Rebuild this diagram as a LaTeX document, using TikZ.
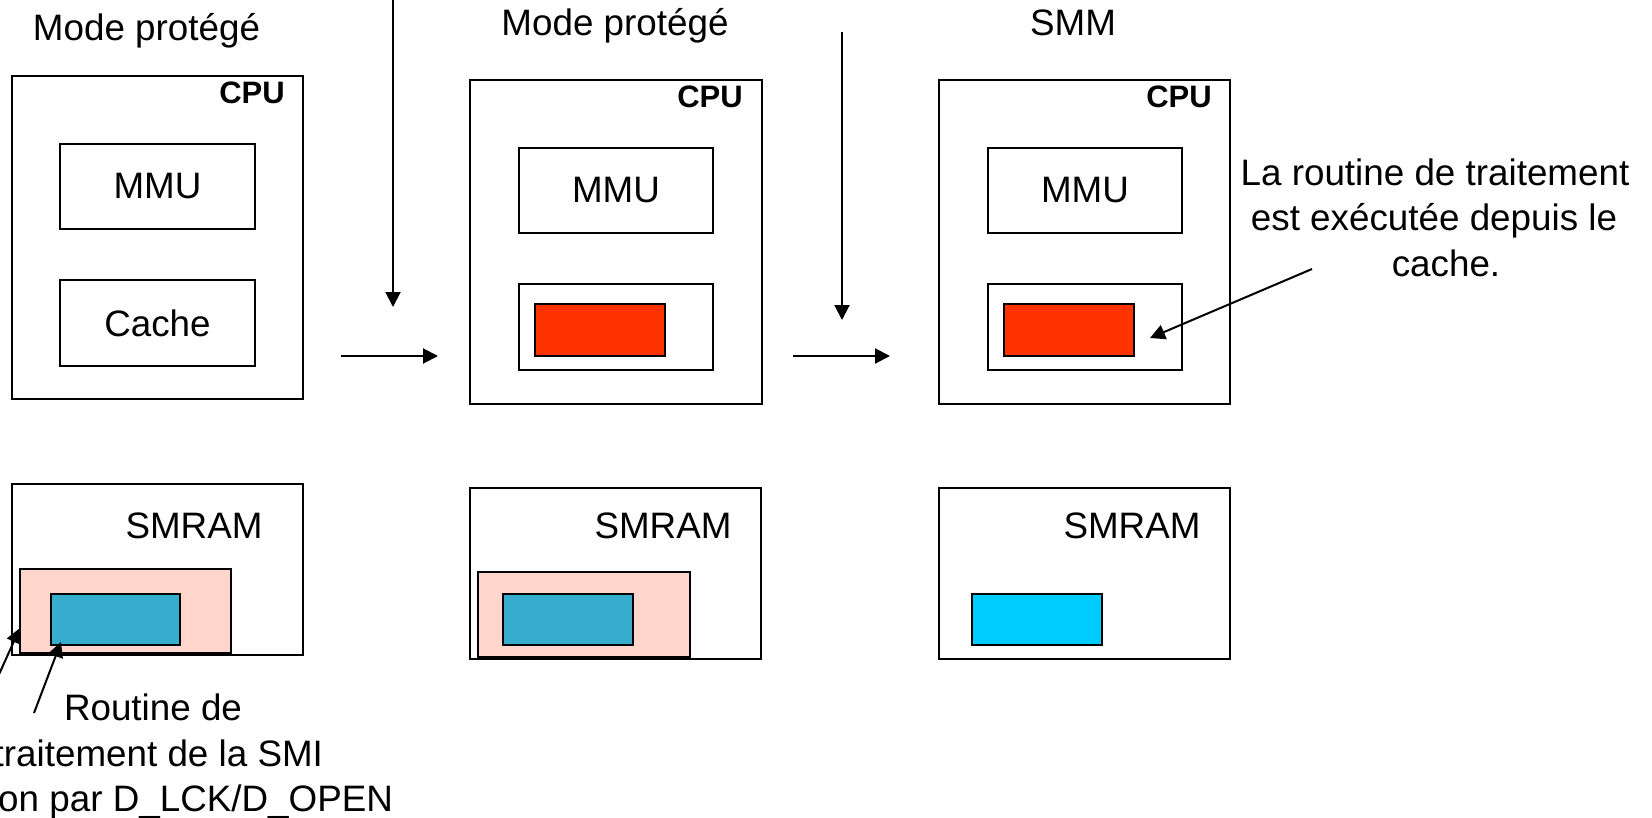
\documentclass[tikz,border=0pt]{standalone}
\usepackage{fontspec}
\setmainfont{Liberation Sans}
\usetikzlibrary{arrows.meta}
\definecolor{hred}{RGB}{255,51,0}
\definecolor{hpink}{RGB}{255,213,204}
\definecolor{hteal}{RGB}{54,173,204}
\definecolor{hcyan}{RGB}{0,204,255}
\begin{document}
\begin{tikzpicture}[x=1pt,y=-1pt,
  box/.style={draw=black, line width=2.3pt, inner sep=0pt, outer sep=0pt, anchor=north west, font=\fontsize{36.8}{45}\selectfont},
  fillbox/.style={box, line width=2pt, fill=#1},
  txt/.style={font=\fontsize{36.8}{45}\selectfont, inner sep=0pt, outer sep=0pt},
  cpulbl/.style={font=\fontsize{31}{36}\selectfont\bfseries, inner sep=0pt, anchor=base east},
  arr/.style={draw=black, line width=2pt, -{Triangle[length=15pt,width=15pt]}}]
\useasboundingbox (0,0) rectangle (1652,817);

% ---- titles
\node[txt, anchor=base] (mode1) at (146.5,40) {Mode protégé};
\node[txt, anchor=base] (mode2) at (615,35) {Mode protégé};
\node[txt, anchor=base] (smm) at (1073,35) {SMM};

% ---- CPU 1
\node[box, minimum width=291pt, minimum height=323pt] (cpu1) at (12,76) {};
\node[cpulbl] (cpul1) at (285,103) {CPU};
\node[box, minimum width=195pt, minimum height=85pt] (mmu1) at (60,144) {MMU};
\node[box, minimum width=195pt, minimum height=86pt] (cache1) at (60,280) {Cache};

% ---- CPU 2
\node[box, minimum width=292pt, minimum height=324pt] (cpu2) at (470,80) {};
\node[cpulbl] (cpul2) at (743,107) {CPU};
\node[box, minimum width=194pt, minimum height=85pt] (mmu2) at (519,148) {MMU};
\node[box, minimum width=194pt, minimum height=86pt] (cache2) at (519,284) {};
\node[fillbox=hred, minimum width=130pt, minimum height=52pt] (red2) at (535,304) {};

% ---- CPU 3
\node[box, minimum width=291pt, minimum height=324pt] (cpu3) at (939,80) {};
\node[cpulbl] (cpul3) at (1212,107) {CPU};
\node[box, minimum width=194pt, minimum height=85pt] (mmu3) at (988,148) {MMU};
\node[box, minimum width=194pt, minimum height=86pt] (cache3) at (988,284) {};
\node[fillbox=hred, minimum width=130pt, minimum height=52pt] (red3) at (1004,304) {};

% ---- annotation right
\node[txt, anchor=base] (ann1) at (1435,185) {La routine de traitement};
\node[txt, anchor=base] (ann2) at (1434,230) {est exécutée depuis le};
\node[txt, anchor=base] (ann3) at (1446,276) {cache.};
\coordinate (anns) at (1312,269);
\coordinate (annt) at (1150,338);
\draw[arr] (anns) -- (annt);

% ---- transition arrows
\coordinate (v1s) at (393,-5);
\coordinate (v1e) at (393,307);
\coordinate (h1s) at (341,356);
\coordinate (h1e) at (438,356);
\coordinate (v2s) at (842,32);
\coordinate (v2e) at (842,320);
\coordinate (h2s) at (793,356);
\coordinate (h2e) at (890,356);
\draw[arr] (v1s) -- (v1e);
\draw[arr] (h1s) -- (h1e);
\draw[arr] (v2s) -- (v2e);
\draw[arr] (h2s) -- (h2e);

% ---- SMRAM 1
\node[box, minimum width=291pt, minimum height=171pt] (sm1) at (12,484) {};
\node[txt, anchor=base] (sml1) at (194,538) {SMRAM};
\node[fillbox=hpink, minimum width=211pt, minimum height=84pt] (pk1) at (20,569) {};
\node[fillbox=hteal, minimum width=129pt, minimum height=51pt] (bl1) at (51,594) {};

% ---- SMRAM 2
\node[box, minimum width=291pt, minimum height=171pt] (sm2) at (470,488) {};
\node[txt, anchor=base] (sml2) at (663,538) {SMRAM};
\node[fillbox=hpink, minimum width=212pt, minimum height=85pt] (pk2) at (478,572) {};
\node[fillbox=hteal, minimum width=130pt, minimum height=51pt] (bl2) at (503,594) {};

% ---- SMRAM 3
\node[box, minimum width=291pt, minimum height=171pt] (sm3) at (939,488) {};
\node[txt, anchor=base] (sml3) at (1132,538) {SMRAM};
\node[fillbox=hcyan, minimum width=130pt, minimum height=51pt] (bl3) at (972,594) {};

% ---- bottom-left annotation
\node[txt, anchor=base] (rt1) at (153,720) {Routine de};
\node[txt, anchor=base east] (rt2) at (323,766) {traitement de la SMI};
\node[txt, anchor=base east] (rt3) at (393,811) {on par D\_LCK/D\_OPEN};
\coordinate (a1s) at (-4,681);
\coordinate (a1t) at (20,628);
\coordinate (a2s) at (34,713);
\coordinate (a2t) at (61,642);
\draw[arr] (a1s) -- (a1t);
\draw[arr] (a2s) -- (a2t);
\end{tikzpicture}
\end{document}
